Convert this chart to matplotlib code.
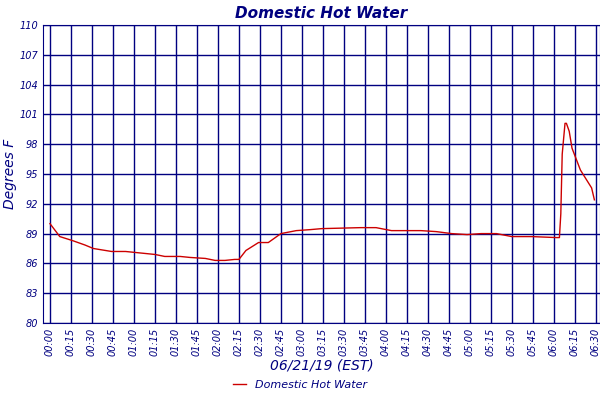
import matplotlib
matplotlib.use('Agg')
import matplotlib.pyplot as plt

# minutes after midnight, degrees F
minutes = [0, 7, 16, 25, 31, 44, 54, 68, 75, 82, 93, 100, 111, 118, 125, 132, 135,
           140, 149, 156, 165, 176, 186, 194, 222, 233, 244, 265, 276, 287, 298,
           308, 319, 330, 344, 362, 364, 365, 366, 368, 369, 371, 373, 379, 387, 389]
temps = [90.0, 88.7, 88.3, 87.85, 87.5, 87.2, 87.2, 87.0, 86.9, 86.7, 86.7, 86.6, 86.5,
         86.3, 86.3, 86.4, 86.4, 87.3, 88.1, 88.1, 89.0, 89.3, 89.4, 89.5, 89.6, 89.6,
         89.3, 89.3, 89.2, 89.0, 88.9, 89.0, 89.0, 88.7, 88.7, 88.6, 88.6, 91.0, 97.0,
         100.1, 100.1, 99.3, 97.6, 95.4, 93.6, 92.4]
y_ticks = [80, 83, 86, 89, 92, 95, 98, 101, 104, 107, 110]
x_ticks = list(range(0, 391, 15))
x_labels = [f'{m // 60:02d}:{m % 60:02d}' for m in x_ticks]

navy = '#000080'
fig = plt.figure(figsize=(6, 4), dpi=100)
ax = fig.add_axes([43 / 600, 1 - 323 / 400, 557 / 600, 298 / 400])
ax.plot(minutes, temps, color='#cc0000', lw=1, label='Domestic Hot Water')
ax.set_xlim(-5, 393)
ax.set_ylim(80, 110)
ax.set_yticks(y_ticks)
ax.set_xticks(x_ticks)
ax.set_xticklabels(x_labels, rotation=90)
ax.grid(True, color=navy, lw=1)
for s in ax.spines.values():
    s.set_color(navy)
ax.tick_params(colors=navy, labelsize=7, length=0)
for t in ax.get_xticklabels() + ax.get_yticklabels():
    t.set_fontstyle('italic')
ax.set_title('Domestic Hot Water', color=navy, fontsize=11, fontweight='bold',
             fontstyle='italic', pad=5)
ax.set_ylabel('Degrees F', color=navy, fontsize=10, fontstyle='italic', labelpad=2)
ax.set_xlabel('06/21/19 (EST)', color=navy, fontsize=10, fontstyle='italic', labelpad=2)
leg = fig.legend(loc='lower center', bbox_to_anchor=(0.5, 0.0), frameon=False,
                 fontsize=8, handlelength=1.2)
for t in leg.get_texts():
    t.set_color(navy)
    t.set_fontstyle('italic')
fig.savefig('out.png', dpi=100)
